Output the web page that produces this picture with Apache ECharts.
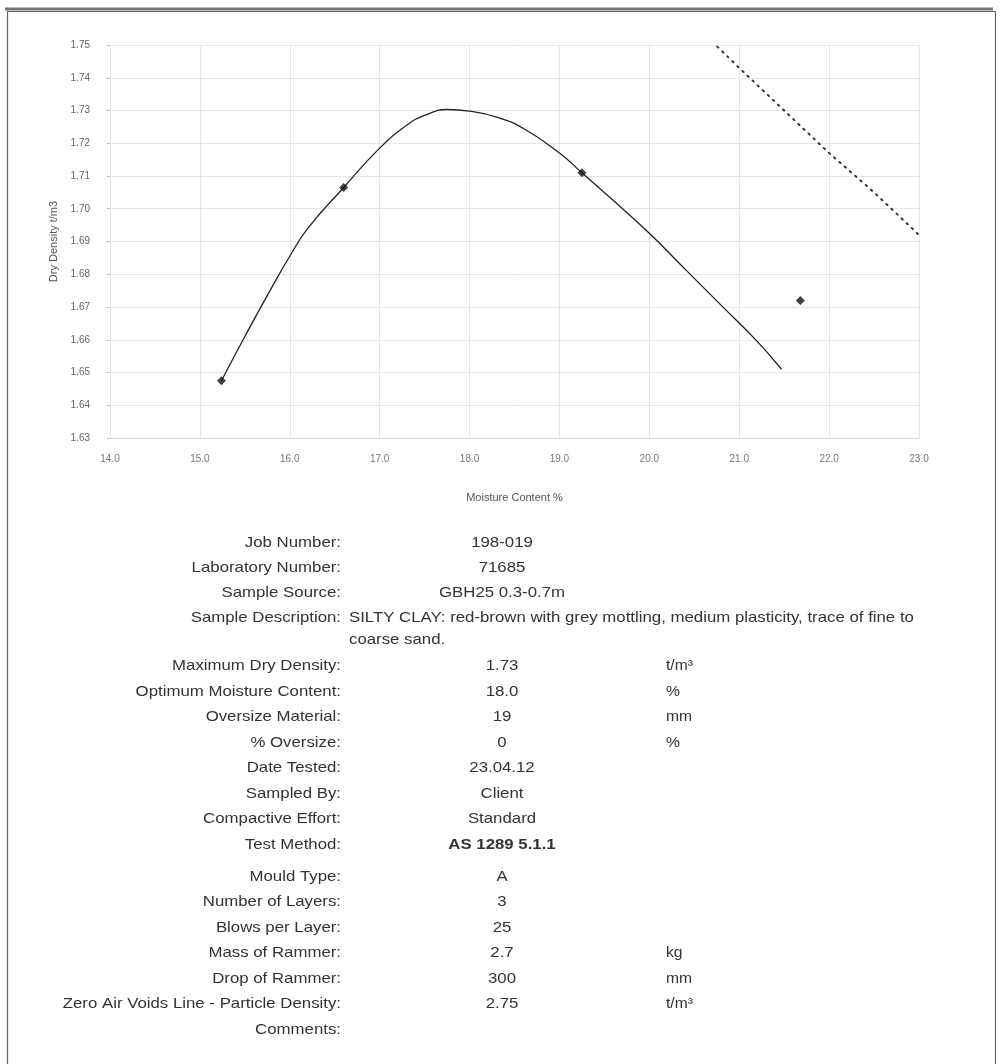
<!DOCTYPE html>
<html>
<head>
<meta charset="utf-8">
<script src="https://cdn.jsdelivr.net/npm/echarts@6/dist/echarts.min.js"></script>
<style>
html,body{margin:0;padding:0;background:#fff;}
#chart{width:1002px;height:1064px;}
</style>
</head>
<body>
<div id="chart"></div>
<script>
// ---- data ----
var pointX = [15.24, 16.60, 19.25, 21.68];
var pointY = [1.6475, 1.7065, 1.711, 1.672];

var curveX = [15.24, 15.5, 15.8, 16.0, 16.2, 16.6, 17.0, 17.3, 17.5, 17.75, 18.0, 18.3, 18.6, 19.0, 19.25, 19.6, 20.0, 20.4, 20.8, 21.2, 21.47];
var curveY = [1.6475, 1.661, 1.676, 1.6855, 1.694, 1.7065, 1.7185, 1.7255, 1.7285, 1.7303, 1.7298, 1.728, 1.7245, 1.717, 1.711, 1.7025, 1.6925, 1.6815, 1.6705, 1.6595, 1.651];

var zavX = [20.70, 21.0, 21.5, 22.0, 22.5, 23.0];
var zavY = [1.751, 1.743, 1.730, 1.717, 1.705, 1.692];

var xTicks = ['14.0','15.0','16.0','17.0','18.0','19.0','20.0','21.0','22.0','23.0'];
var xAxisName = 'Moisture Content %';
var yAxisName = 'Dry Density t/m3';

var tableLabels = ['Job Number:', 'Laboratory Number:', 'Sample Source:', 'Sample Description:', '',
  'Maximum Dry Density:', 'Optimum Moisture Content:', 'Oversize Material:', '% Oversize:', 'Date Tested:',
  'Sampled By:', 'Compactive Effort:', 'Test Method:',
  'Mould Type:', 'Number of Layers:', 'Blows per Layer:', 'Mass of Rammer:', 'Drop of Rammer:',
  'Zero Air Voids Line - Particle Density:', 'Comments:'];
var tableValues = ['198-019', '71685', 'GBH25 0.3-0.7m', 'SILTY CLAY: red-brown with grey mottling, medium plasticity, trace of fine to', 'coarse sand.',
  '1.73', '18.0', '19', '0', '23.04.12',
  'Client', 'Standard', 'AS 1289 5.1.1',
  'A', '3', '25', '2.7', '300',
  '2.75', ''];
var tableUnits = ['', '', '', '', '',
  't/m³', '%', 'mm', '%', '',
  '', '', '',
  '', '', '', 'kg', 'mm',
  't/m³', ''];

// ---- layout ----
var rowY = [543, 568, 593, 618, 640, 666, 692, 717, 743, 768, 794, 819, 845, 877, 902, 928, 953, 979, 1004, 1030];
var labelRight = 341, valueCenter = 502, descLeft = 349, unitLeft = 666;
var SX = 1.12;
var FONT = '"Liberation Sans", Arial, Helvetica, sans-serif';

var graphics = [];
graphics.push({type:'rect', left:5, top:9, shape:{width:988, height:1100}, style:{fill:'none', stroke:'#666', lineWidth:1.2}, z:-1});
graphics.push({type:'line', shape:{x1:5, y1:9, x2:993, y2:9}, style:{stroke:'#777', lineWidth:3}});
function addText(txt, x, y, align, font) {
  graphics.push({type:'text', x:x, y:y, scaleX:SX, scaleY:1,
    style:{text:txt, x:0, y:0, fill:'#333', font:font, textAlign:align, textVerticalAlign:'middle'}});
}
for (var i = 0; i < tableLabels.length; i++) {
  if (tableLabels[i]) addText(tableLabels[i], labelRight, rowY[i], 'right', '15px ' + FONT);
  if (tableValues[i]) {
    var isDesc = (i === 3 || i === 4);
    var bold = (tableLabels[i] === 'Test Method:');
    addText(tableValues[i], isDesc ? descLeft : valueCenter, rowY[i], isDesc ? 'left' : 'center', (bold ? 'bold ' : '') + '15px ' + FONT);
  }
  if (tableUnits[i]) addText(tableUnits[i], unitLeft, rowY[i], 'left', '14px ' + FONT);
}

function zip(a, b){ return a.map(function(v, k){ return [v, b[k]]; }); }

var chart = echarts.init(document.getElementById('chart'), null, {renderer:'canvas'});
chart.setOption({
  animation: false,
  backgroundColor: '#fff',
  grid: {left:110, right:83, top:45, bottom:626, containLabel:false},
  xAxis: {
    type:'value', min:14, max:23, interval:1,
    name: xAxisName, nameLocation:'middle', nameGap:54,
    nameTextStyle:{color:'#555', fontSize:11, fontFamily:FONT},
    axisLine:{show:true, lineStyle:{color:'#ddd'}},
    axisTick:{show:false},
    axisLabel:{color:'#777', fontSize:10, fontFamily:FONT, margin:16, formatter:function(v){ return xTicks[Math.round(v - 14)]; }},
    splitLine:{show:true, lineStyle:{color:'#e6e6e6', width:1}}
  },
  yAxis: {
    type:'value', min:1.63, max:1.75, interval:0.01,
    name: yAxisName, nameLocation:'middle', nameGap:48,
    nameTextStyle:{color:'#555', fontSize:11, fontFamily:FONT},
    axisLine:{show:false},
    axisTick:{show:true, length:3, lineStyle:{color:'#bbb'}},
    axisLabel:{color:'#666', fontSize:10, fontFamily:FONT, margin:20, formatter:function(v){ return v.toFixed(2); }},
    splitLine:{show:true, lineStyle:{color:'#e6e6e6', width:1}}
  },
  series: [
    {type:'line', data: zip(curveX, curveY), smooth:0.5, showSymbol:false, lineStyle:{color:'#222', width:1.3}, z:3},
    {type:'line', data: zip(zavX, zavY), showSymbol:false, lineStyle:{color:'#333', width:2, type:[1.5, 5.5], cap:'round'}, z:3},
    {type:'scatter', data: zip(pointX, pointY), symbol:'diamond', symbolSize:9, itemStyle:{color:'#111'}, z:4}
  ],
  graphic: graphics
});
</script>
</body>
</html>
